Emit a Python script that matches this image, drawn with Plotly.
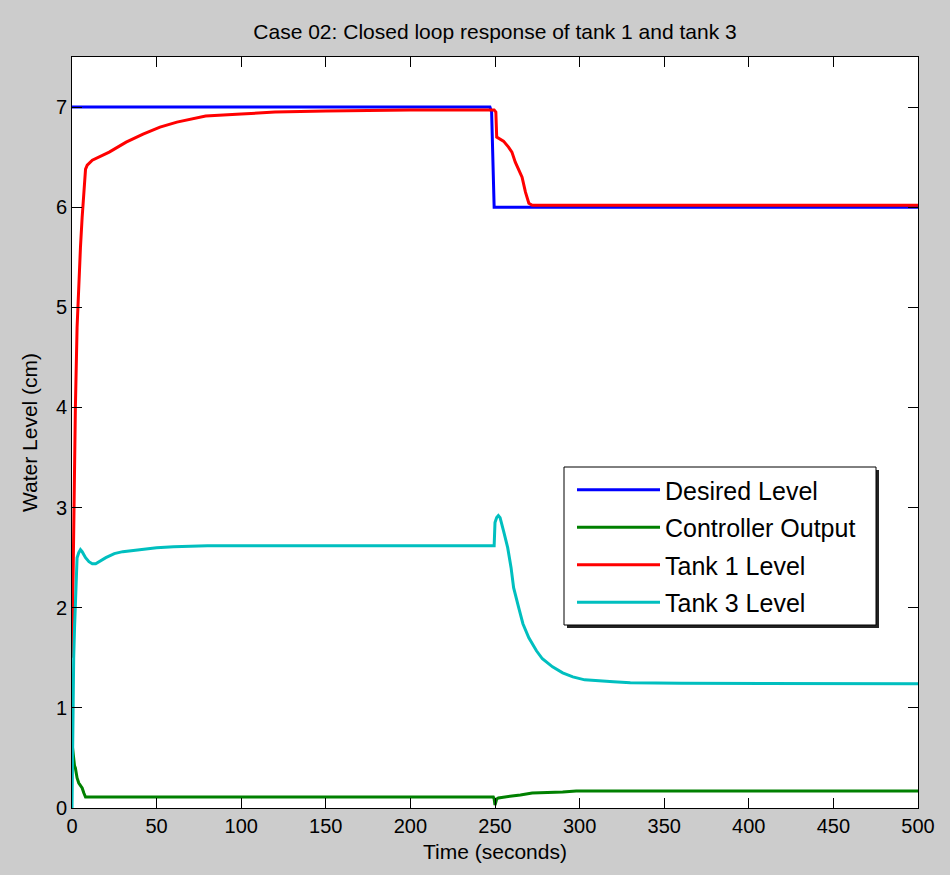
import plotly.graph_objects as go

# ---- data ----
t_desired = [0, 247, 248, 248.5, 249, 249.5, 500]
desired = [7, 7, 6.95, 6.7, 6.3, 6.0, 6.0]

t_ctrl = [0, 0.5, 1, 1.5, 2, 2.5, 3, 4, 5, 6, 7, 7.5, 8, 249, 249.5, 250, 250.5,
          251, 252, 255, 260, 265, 270, 272, 290, 298, 500]
ctrl = [0.65, 0.55, 0.45, 0.42, 0.4, 0.35, 0.3, 0.25, 0.22, 0.2, 0.15, 0.12, 0.11,
        0.11, 0.09, 0.03, 0.06, 0.09, 0.10, 0.11, 0.12, 0.13, 0.14, 0.15, 0.16, 0.17, 0.17]

t_tank1 = [0, 0.5, 1, 1.5, 2, 3, 4, 5, 6, 7, 8, 9, 12, 22, 32, 42, 52, 62, 71, 79,
           100, 120, 150, 200, 249.5, 250.5, 251, 255, 258, 260, 262, 264, 266, 268,
           270, 272, 300, 500]
tank1 = [1.5, 2.3, 2.8, 3.3, 4.0, 4.8, 5.3, 5.6, 5.9, 6.2, 6.38, 6.42, 6.47, 6.55,
         6.65, 6.73, 6.80, 6.85, 6.88, 6.91, 6.93, 6.95, 6.96, 6.97, 6.97, 6.95, 6.70,
         6.66, 6.60, 6.55, 6.45, 6.38, 6.30, 6.15, 6.04, 6.02, 6.02, 6.02]

t_tank3 = [0, 0.3, 0.6, 1, 1.5, 2, 2.5, 3, 4, 5, 6, 8, 10, 12, 14, 16, 20, 25, 30, 40,
           50, 60, 80, 100, 150, 249.5, 250, 251, 252, 253, 255, 257.5, 259.5, 261,
           264, 266.5, 270, 274.5, 278, 284, 290, 296, 303, 310, 320, 330, 360, 500]
tank3 = [0, 0.8, 1.2, 1.5, 1.8, 2.1, 2.35, 2.5, 2.55, 2.58, 2.56, 2.5, 2.46, 2.44,
         2.44, 2.46, 2.5, 2.54, 2.56, 2.58, 2.6, 2.61, 2.62, 2.62, 2.62, 2.62, 2.85,
         2.9, 2.92, 2.9, 2.77, 2.6, 2.4, 2.2, 2.0, 1.84, 1.7, 1.57, 1.49, 1.41, 1.35,
         1.31, 1.28, 1.27, 1.26, 1.25, 1.245, 1.24]

x_ticks = [0, 50, 100, 150, 200, 250, 300, 350, 400, 450, 500]
y_ticks = [0, 1, 2, 3, 4, 5, 6, 7]

FONT = "Liberation Sans, Arial, sans-serif"

fig = go.Figure()
series = [
    (t_desired, desired, "Desired Level", "#0000ff"),
    (t_ctrl, ctrl, "Controller Output", "#008000"),
    (t_tank1, tank1, "Tank 1 Level", "#ff0000"),
    (t_tank3, tank3, "Tank 3 Level", "#00bfbf"),
]
for i, (tx, ty, nm, col) in enumerate(series):
    fig.add_trace(go.Scatter(x=tx, y=ty, mode="lines", name=nm, legendgroup=f"g{i}",
                             line=dict(color=col, width=3)))

W, H = 950, 875
L, R, T, B = 72, 32, 57, 67
pw, ph = W - L - R, H - T - B

def px_to_paper(xp, yp):
    return (xp - L) / pw, (H - B - yp) / ph

# legend frame (box + drop shadow), in pixel positions of the reference
bx0, by0 = px_to_paper(564, 467)
bx1, by1 = px_to_paper(876, 625)
sx0, sy0 = px_to_paper(567, 470)
sx1, sy1 = px_to_paper(879, 628)
lx, ly = px_to_paper(572, 467)

fig.add_shape(type="rect", xref="paper", yref="paper", x0=sx0, y0=sy1, x1=sx1, y1=sy0,
              fillcolor="#222222", line=dict(width=0), layer="above")
fig.add_shape(type="rect", xref="paper", yref="paper", x0=bx0, y0=by1, x1=bx1, y1=by0,
              fillcolor="white", line=dict(color="black", width=1), layer="above")

axis_common = dict(showline=True, linecolor="black", linewidth=1, mirror="ticks",
                   ticks="inside", ticklen=10, tickcolor="black", tickwidth=1,
                   showgrid=False, zeroline=False,
                   tickfont=dict(family=FONT, size=20, color="black"))

fig.update_layout(
    width=W, height=H,
    margin=dict(l=L, r=R, t=T, b=B),
    paper_bgcolor="#cccccc", plot_bgcolor="white",
    font=dict(family=FONT, color="black"),
    title=dict(text="Case 02: Closed loop response of tank 1 and tank 3",
               x=(L + pw / 2) / W, xanchor="center", xref="container",
               y=1 - 32 / H, yanchor="middle", yref="container",
               font=dict(family=FONT, size=21, color="black")),
    xaxis=dict(range=[0, 500], tickvals=x_ticks,
               title=dict(text="Time (seconds)", font=dict(family=FONT, size=21), standoff=8),
               **axis_common),
    yaxis=dict(range=[0, 7.5], tickvals=y_ticks,
               title=dict(text="Water Level (cm)", font=dict(family=FONT, size=21), standoff=12),
               **axis_common),
    legend=dict(x=lx, y=ly, xanchor="left", yanchor="top",
                bgcolor="rgba(0,0,0,0)", borderwidth=0,
                font=dict(family=FONT, size=25, color="black"),
                itemwidth=83, tracegroupgap=2),
    showlegend=True,
)

fig.write_html("out.html")
